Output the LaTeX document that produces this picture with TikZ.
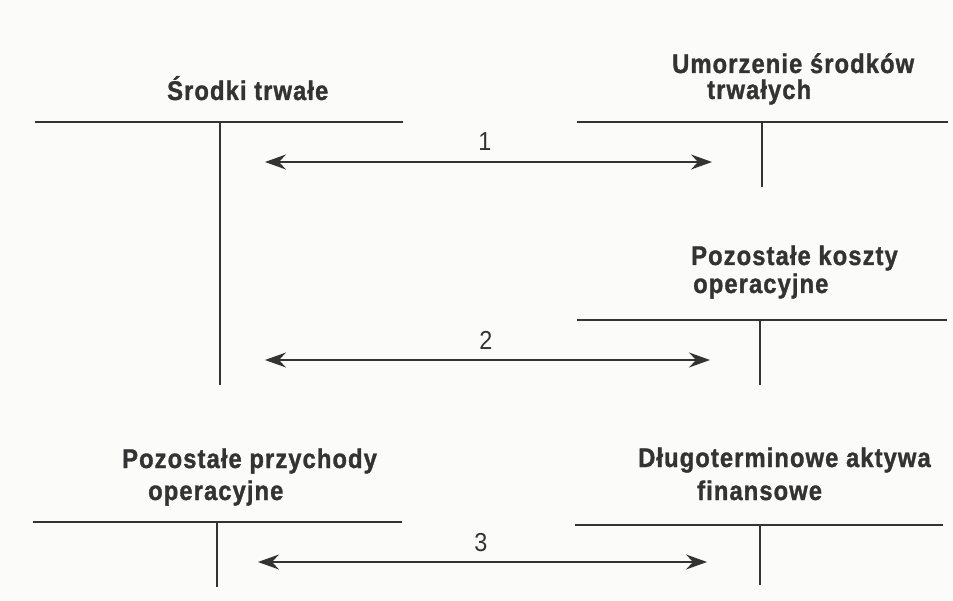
\documentclass[tikz,border=0pt]{standalone}
\usepackage{fontspec}
\usetikzlibrary{arrows.meta}
\newfontfamily\tfont{Liberation Sans}[LetterSpace=4,FakeStretch=0.88,FakeBold=1.2]
\newfontfamily\nfont{Liberation Sans}[FakeStretch=0.9]
\definecolor{ink}{HTML}{333333}
\definecolor{paper}{HTML}{FBFBFA}
\tikzset{
  title/.style={anchor=base west, inner sep=0pt, text=ink, font=\tfont\fontsize{27}{31}\selectfont\bfseries},
  numlabel/.style={anchor=center, inner sep=0pt, text=ink, font=\nfont\fontsize{26}{30}\selectfont},
  tline/.style={draw=ink, line width=2pt},
  flow/.style={draw=ink, line width=1.6pt, {Stealth[length=21pt,width=15pt,inset=7pt]}-{Stealth[length=21pt,width=15pt,inset=7pt]}}
}
\begin{document}
\begin{tikzpicture}[x=1pt,y=-1pt]
\fill[paper] (0,0) rectangle (953,601);
\useasboundingbox (0,0) rectangle (953,601);

% Account A: Srodki trwale
\coordinate (aL) at (35,122); \coordinate (aR) at (403,122);
\coordinate (aT) at (220,122); \coordinate (aB) at (220,385);
\draw[tline] (aL) -- (aR); \draw[tline] (aT) -- (aB);
\node[title] (ta) at (167,100) {Środki trwałe};

% Account B: Umorzenie
\coordinate (bL) at (577,122); \coordinate (bR) at (948,122);
\coordinate (bT) at (762,122); \coordinate (bB) at (762,187);
\draw[tline] (bL) -- (bR); \draw[tline] (bT) -- (bB);
\node[title] (tb1) at (672,73) {Umorzenie środków};
\node[title] (tb2) at (707,99) {trwałych};

% Account C: Pozostale koszty
\coordinate (cL) at (577,320); \coordinate (cR) at (947,320);
\coordinate (cT) at (760,320); \coordinate (cB) at (760,385);
\draw[tline] (cL) -- (cR); \draw[tline] (cT) -- (cB);
\node[title] (tc1) at (691,265) {Pozostałe koszty};
\node[title] (tc2) at (693,293) {operacyjne};

% Account D: Pozostale przychody
\coordinate (dL) at (33,522); \coordinate (dR) at (402,522);
\coordinate (dT) at (217,522); \coordinate (dB) at (217,587);
\draw[tline] (dL) -- (dR); \draw[tline] (dT) -- (dB);
\node[title] (td1) at (122,468) {Pozostałe przychody};
\node[title] (td2) at (148,500) {operacyjne};

% Account E: Dlugoterminowe
\coordinate (eL) at (575,525); \coordinate (eR) at (943,525);
\coordinate (eT) at (760,525); \coordinate (eB) at (760,585);
\draw[tline] (eL) -- (eR); \draw[tline] (eT) -- (eB);
\node[title] (te1) at (638,467) {Długoterminowe aktywa};
\node[title] (te2) at (697,500) {finansowe};

% Flows
\coordinate (f1a) at (265,162); \coordinate (f1b) at (712,162);
\draw[flow] (f1a) -- (f1b);
\node[numlabel] (n1) at (485,142) {1};

\coordinate (f2a) at (265,360); \coordinate (f2b) at (710,360);
\draw[flow] (f2a) -- (f2b);
\node[numlabel] (n2) at (486,340) {2};

\coordinate (f3a) at (258,562); \coordinate (f3b) at (707,562);
\draw[flow] (f3a) -- (f3b);
\node[numlabel] (n3) at (481,543) {3};
\end{tikzpicture}
\end{document}
